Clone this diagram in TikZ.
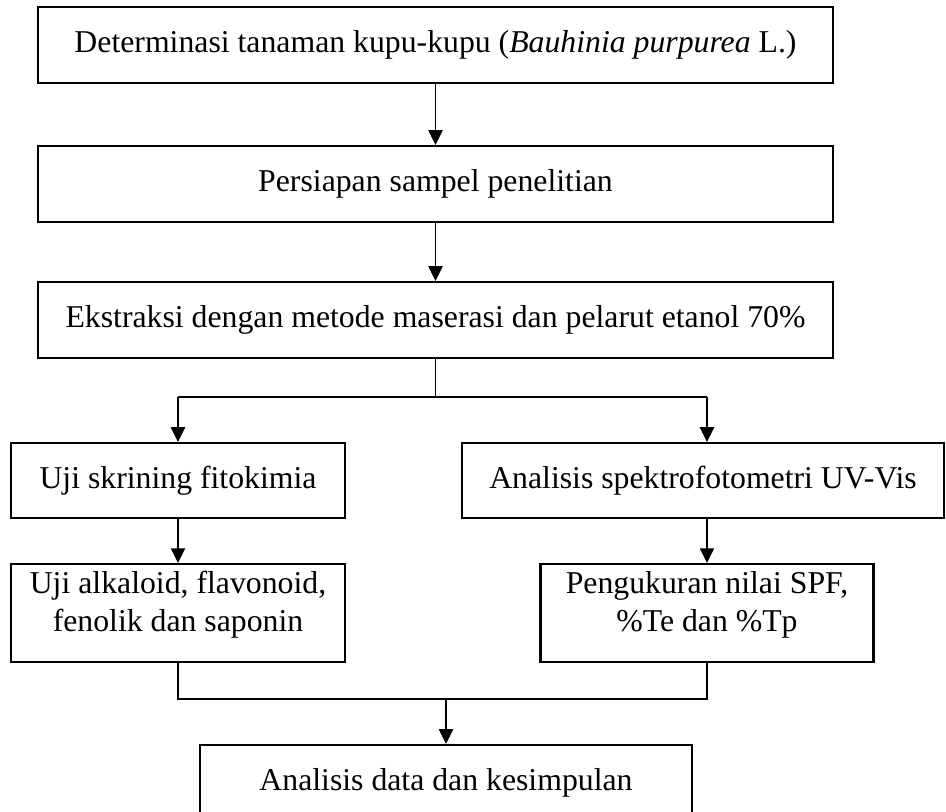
\documentclass[tikz,border=0pt]{standalone}
\usepackage{fontspec}
\setmainfont{Liberation Serif}
\usetikzlibrary{arrows.meta}

\begin{document}
\begin{tikzpicture}[x=0.381pt, y=-0.381pt,
  box/.style={draw, line width=0.8pt, align=center, inner sep=0pt,
    font=\fontsize{12.1}{14.5}\selectfont},
  flow/.style={-{Triangle[length=5.6pt,width=5.4pt]}, line width=0.55pt},
  link/.style={line width=0.55pt}]

  % Pixel grid of the page: 946 x 812, y grows downwards.
  \useasboundingbox (0,0) rectangle (946,812);
  \clip (0,0) rectangle (946,812);

  % ---- (1) main column ----
  \node[box, minimum width=302.9pt, minimum height=29pt] (det) at (435.5,45)
    {Determinasi tanaman kupu-kupu (\textit{Bauhinia purpurea} L.)};
  \node[box, minimum width=302.9pt, minimum height=29pt] (prep) at (435.5,184)
    {Persiapan sampel penelitian};
  \node[box, minimum width=302.9pt, minimum height=29pt] (ekst) at (435.5,320)
    {Ekstraksi dengan metode maserasi dan pelarut etanol 70\%};

  % ---- (2) two branches ----
  \node[box, minimum width=127.3pt, minimum height=28.6pt] (skrin) at (178,480.5)
    {Uji skrining fitokimia};
  \node[box, minimum width=183.6pt, minimum height=28.6pt] (spek) at (703,480.5)
    {Analisis spektrofotometri UV-Vis};
  % two-line boxes: text sits in the upper part
  \node[box, minimum width=127.3pt, minimum height=37.3pt, text depth=9pt]
    (alk) at (178,613) {Uji alkaloid, flavonoid,\\ fenolik dan saponin};
  \node[box, minimum width=126.9pt, minimum height=37.3pt, text depth=9pt]
    (spf) at (707,613) {Pengukuran nilai SPF,\\ \%Te dan \%Tp};

  % ---- (3) result (cut by the page edge) ----
  \node[box, minimum width=187.5pt, minimum height=29pt] (hasil) at (446,783)
    {Analisis data dan kesimpulan};

  % ---- connectors ----
  \draw[flow] (det) -- (prep);
  \draw[flow] (prep) -- (ekst);

  \coordinate (split)  at (435.5,397);
  \coordinate (splitL) at (178,397);
  \coordinate (splitR) at (707,397);
  \draw[link] (ekst) -- (split);
  \draw[link] (splitL) -- (splitR);
  \draw[flow] (splitL) -- (skrin);
  \draw[flow] (splitR) -- (splitR |- spek.north);

  \draw[flow] (skrin) -- (alk);
  \draw[flow] (spf |- spek.south) -- (spf);

  \coordinate (joinR) at (707,699);
  \coordinate (joinM) at (446,699);
  \draw[link] (alk.south) |- (joinR) -- (spf.south);
  \draw[flow] (joinM) -- (hasil);

\end{tikzpicture}
\end{document}
